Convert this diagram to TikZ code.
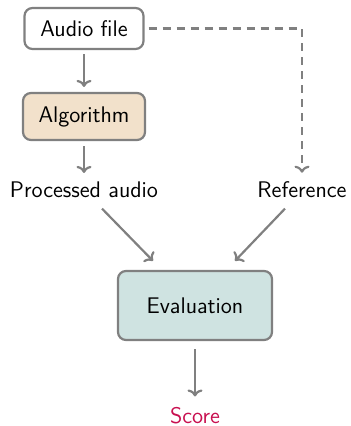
\documentclass[tikz,border=0pt]{standalone}
\usetikzlibrary{calc,arrows.meta}
\definecolor{linegray}{RGB}{128,128,128}
\definecolor{algfill}{RGB}{242,225,203}
\definecolor{evalfill}{RGB}{207,227,225}
\definecolor{scorered}{RGB}{200,16,80}
\tikzset{
  txt/.style={font=\sffamily\fontsize{11.3}{13.5}\selectfont},
  box/.style={txt, draw=linegray, line width=1.1pt, rounded corners=4pt, align=center},
  label text/.style={txt, inner sep=0pt, anchor=base},
  flow/.style={draw=linegray, line width=1.1pt, -{To[length=3.5pt,width=7.5pt]}},
}
\begin{document}
\begin{tikzpicture}[x=0.5pt, y=-0.5pt]
  \useasboundingbox (0,0) rectangle (350,426);

  \node[box, fill=white, minimum width=59.5pt, minimum height=20.5pt] (audio) at (84,28.5) {Audio file};
  \node[box, fill=algfill, minimum width=61pt, minimum height=23.5pt] (alg) at (84,116.5) {Algorithm};
  \node[label text] (proc) at (84,198) {Processed audio};
  \node[label text] (ref) at (302,198) {Reference};
  \node[box, fill=evalfill, minimum width=77pt, minimum height=34.5pt] (eval) at (195,305.5) {Evaluation};
  \node[label text, text=scorered] (score) at (195,423) {Score};

  \draw[flow, shorten <=2pt, shorten >=2.5pt] (audio.south) -- (alg.north);
  \draw[flow, shorten <=2.5pt] (alg.south) -- ($(proc.north)+(0,-9)$);
  \draw[flow, dashed, dash pattern=on 4pt off 3pt] ($(audio.east)+(4,0)$) -| ($(ref.north)+(0,-9)$);
  \draw[flow] ($(proc.south)+(18,10)$) -- ($(eval.north)+(-42,-9)$);
  \draw[flow] ($(ref.south)+(-17,10)$) -- ($(eval.north)+(40,-9)$);
  \draw[flow] ($(eval.south)+(0,8)$) -- ($(score.north)+(0,-10)$);
\end{tikzpicture}
\end{document}
